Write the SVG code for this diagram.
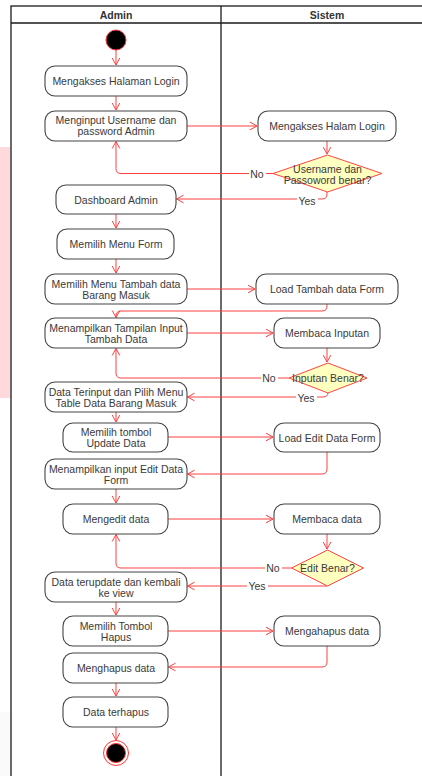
<svg xmlns="http://www.w3.org/2000/svg" width="422" height="776" viewBox="0 0 422 776">
  <style>
    .pool { fill: none; stroke: #1a1a1a; stroke-width: 1.3; }
    .lane-title { font-family: "Liberation Sans", Arial, sans-serif; font-size: 10.5px; font-weight: bold; fill: #333; text-anchor: middle; }
    .act rect { fill: #fff; stroke: #444; stroke-width: 1.1; }
    .act text, .dec text { font-family: "Liberation Sans", Arial, sans-serif; font-size: 10.5px; fill: #3a3a3a; text-anchor: middle; dominant-baseline: central; }
    .dec polygon { fill: #ffffc0; stroke: #ff4444; stroke-width: 1; }
    .flow path { fill: none; stroke: #ff4040; stroke-width: 1; marker-end: url(#arrow); }
    .lbl rect { fill: #fff; }
    .lbl text { font-family: "Liberation Sans", Arial, sans-serif; font-size: 10.5px; fill: #3a3a3a; text-anchor: middle; dominant-baseline: central; }
  </style>
  <defs>
    <marker id="arrow" markerUnits="userSpaceOnUse" viewBox="-9 -5 10 10" markerWidth="10" markerHeight="10" refX="0" refY="0" orient="auto">
      <path d="M-7,-3.8 L0,0 L-7,3.8" fill="none" stroke="#ff4040" stroke-width="1"/>
    </marker>
  </defs>

  <rect x="0" y="0" width="422" height="776" fill="#fff"/>
  <!-- side tints at the page edge -->
  <rect x="0" y="147" width="10" height="251" fill="#ffd9dc"/>
  <rect x="0" y="712" width="10" height="64" fill="#fafafa"/>

  <!-- swimlane pool -->
  <g id="pool">
    <rect class="pool" x="11" y="6" width="430" height="800"/>
    <line class="pool" x1="11" y1="23" x2="422" y2="23"/>
    <line class="pool" x1="221" y1="6" x2="221" y2="776"/>
    <text class="lane-title" x="116" y="19">Admin</text>
    <text class="lane-title" x="327" y="19">Sistem</text>
  </g>

  <!-- connectors -->
  <g id="connectors" class="flow">
    <path d="M116,50 V65"/>
    <path d="M116,96 V110"/>
    <path d="M187,126 H257"/>
    <path d="M327,141 V154"/>
    <path d="M273,173.5 H121 Q116,173.5 116,168.5 V141.5"/>
    <path d="M327,192 V194 Q327,199 322,199 H176.5"/>
    <path d="M116,214 V228"/>
    <path d="M116,259 V273"/>
    <path d="M187,289 H255"/>
    <path d="M327,304 V306 Q327,311 322,311 H121 Q116,311 116,316 V317.5"/>
    <path d="M187,333 H273"/>
    <path d="M327,348 V362"/>
    <path d="M289,378 H121 Q116,378 116,373 V348.5"/>
    <path d="M328,393 V392.5 Q328,397 323,397 H187.5"/>
    <path d="M116,412 V422"/>
    <path d="M168,437 H273"/>
    <path d="M327,452 V469 Q327,474 322,474 H187.5"/>
    <path d="M116,489 V503"/>
    <path d="M168,519 H273"/>
    <path d="M327,534 V549"/>
    <path d="M291.5,568 H121 Q116,568 116,563 V534.5"/>
    <path d="M327,586 H187.5"/>
    <path d="M116,602 V615"/>
    <path d="M168,631 H273"/>
    <path d="M327,646 V662 Q327,667 322,667 H168.5"/>
    <path d="M116,683 V696"/>
    <path d="M116,727 V740"/>
  </g>

  <!-- edge labels -->
  <g id="labels" class="lbl">
    <rect x="249" y="167" width="17" height="12"/><text x="257" y="173.5">No</text>
    <rect x="297" y="194" width="21" height="12"/><text x="307" y="200.5">Yes</text>
    <rect x="261" y="372" width="17" height="12"/><text x="269" y="378">No</text>
    <rect x="296" y="392" width="21" height="12"/><text x="306" y="398">Yes</text>
    <rect x="265" y="562" width="17" height="12"/><text x="273" y="567.5">No</text>
    <rect x="247" y="580" width="21" height="12"/><text x="257" y="586">Yes</text>
  </g>

  <!-- start -->
  <g id="start">
    <circle cx="116" cy="40" r="10" fill="#000" stroke="#ff3333" stroke-width="1"/>
  </g>

  <g id="n1" class="act"><rect x="45" y="66" width="142" height="30" rx="10"/><text x="116" y="81">Mengakses Halaman Login</text></g>
  <g id="n2" class="act"><rect x="45" y="111" width="142" height="30" rx="10"/><text x="116" y="120">Menginput Username dan</text><text x="116" y="131">password Admin</text></g>
  <g id="s1" class="act"><rect x="258" y="111" width="138" height="30" rx="10"/><text x="327" y="126">Mengakses Halam Login</text></g>
  <g id="d1" class="dec"><polygon points="327.5,155 382,173.5 327.5,192 273,173.5"/><text x="327.5" y="169">Username dan</text><text x="327.5" y="180">Passoword benar?</text></g>
  <g id="n3" class="act"><rect x="56" y="185" width="120" height="29" rx="10"/><text x="116" y="199.5">Dashboard Admin</text></g>
  <g id="n4" class="act"><rect x="57" y="229" width="117" height="30" rx="10"/><text x="116" y="244">Memilih Menu Form</text></g>
  <g id="n5" class="act"><rect x="45" y="274" width="142" height="30" rx="10"/><text x="116" y="283.5">Memilih Menu Tambah data</text><text x="116" y="294.5">Barang Masuk</text></g>
  <g id="s2" class="act"><rect x="256" y="274" width="142" height="30" rx="10"/><text x="327" y="289">Load Tambah data Form</text></g>
  <g id="n6" class="act"><rect x="45" y="318" width="142" height="30" rx="10"/><text x="116" y="327.5">Menampilkan Tampilan Input</text><text x="116" y="338.5">Tambah Data</text></g>
  <g id="s3" class="act"><rect x="274" y="318" width="106" height="30" rx="10"/><text x="327" y="333">Membaca Inputan</text></g>
  <g id="d2" class="dec"><polygon points="328,363 367,378 328,393 289,378"/><text x="328" y="378">Inputan Benar?</text></g>
  <g id="n7" class="act"><rect x="45" y="382" width="142" height="30" rx="10"/><text x="116" y="391.5">Data Terinput dan Pilih Menu</text><text x="116" y="402.5">Table Data Barang Masuk</text></g>
  <g id="n8" class="act"><rect x="63" y="423" width="105" height="29" rx="10"/><text x="116" y="432">Memilih tombol</text><text x="116" y="443">Update Data</text></g>
  <g id="s4" class="act"><rect x="274" y="423" width="106" height="29" rx="10"/><text x="327" y="437.5">Load Edit Data Form</text></g>
  <g id="n9" class="act"><rect x="45" y="459" width="142" height="30" rx="10"/><text x="116" y="469">Menampilkan input Edit Data</text><text x="116" y="480">Form</text></g>
  <g id="n10" class="act"><rect x="63" y="504" width="105" height="30" rx="10"/><text x="116" y="519">Mengedit data</text></g>
  <g id="s5" class="act"><rect x="274" y="504" width="106" height="30" rx="10"/><text x="327" y="519">Membaca data</text></g>
  <g id="d3" class="dec"><polygon points="327.5,550 363.5,568 327.5,586 291.5,568"/><text x="327.5" y="567.5">Edit Benar?</text></g>
  <g id="n11" class="act"><rect x="45" y="572" width="142" height="30" rx="10"/><text x="116" y="581.5">Data terupdate dan kembali</text><text x="116" y="592.5">ke view</text></g>
  <g id="n12" class="act"><rect x="63" y="616" width="105" height="30" rx="10"/><text x="116" y="625.5">Memilih Tombol</text><text x="116" y="636.5">Hapus</text></g>
  <g id="s6" class="act"><rect x="274" y="616" width="106" height="30" rx="10"/><text x="327" y="631">Mengahapus data</text></g>
  <g id="n13" class="act"><rect x="63" y="653" width="105" height="30" rx="10"/><text x="116" y="668">Menghapus data</text></g>
  <g id="n14" class="act"><rect x="63" y="697" width="105" height="30" rx="10"/><text x="116" y="712">Data terhapus</text></g>

  <!-- end -->
  <g id="end">
    <circle cx="116" cy="753" r="12.5" fill="#fff" stroke="#ff3333" stroke-width="1"/>
    <circle cx="116" cy="753" r="9.5" fill="#000" stroke="#ff3333" stroke-width="1"/>
  </g>
</svg>
